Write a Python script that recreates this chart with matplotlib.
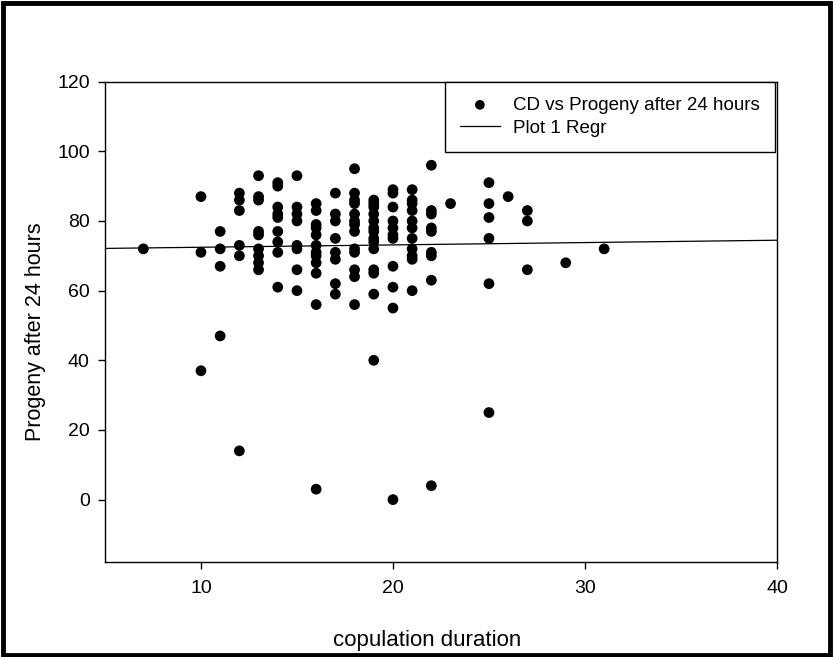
import numpy as np
import matplotlib
matplotlib.use("Agg")
import matplotlib.pyplot as plt
from matplotlib.patches import Rectangle

plt.rcParams["font.family"] = ["Liberation Sans", "DejaVu Sans"]

# copulation duration (x) and progeny after 24 h (y), read column by column
duration = ([7] + [10] * 3 + [11] * 4 + [12] * 6 + [13] * 9 + [14] * 9 + [15] * 8
            + [16] * 12 + [17] * 8 + [18] * 13 + [19] * 14 + [20] * 11 + [21] * 11
            + [22] * 9 + [23] + [25] * 6 + [26] + [27] * 3 + [29] + [31])
progeny = ([72]
           + [87, 71, 37]
           + [77, 72, 67, 47]
           + [88, 86, 83, 73, 70, 14]
           + [93, 87, 86, 77, 76, 72, 70, 68, 66]
           + [91, 90, 84, 82, 81, 77, 74, 71, 61]
           + [93, 84, 82, 80, 73, 72, 66, 60]
           + [85, 83, 79, 78, 76, 73, 71, 70, 68, 65, 56, 3]
           + [88, 82, 80, 75, 71, 69, 62, 59]
           + [95, 88, 86, 85, 82, 80, 79, 77, 72, 71, 66, 64, 56]
           + [86, 85, 84, 82, 80, 78, 77, 75, 74, 72, 66, 65, 59, 40]
           + [89, 88, 84, 80, 78, 76, 75, 67, 61, 55, 0]
           + [89, 86, 85, 83, 80, 78, 75, 72, 70, 69, 60]
           + [96, 83, 82, 78, 77, 71, 70, 63, 4]
           + [85]
           + [91, 85, 81, 75, 62, 25]
           + [87]
           + [83, 80, 66]
           + [68]
           + [72])
x_ticks = [10, 20, 30, 40]
y_ticks = [0, 20, 40, 60, 80, 100, 120]

x = np.array(duration, dtype=float)
y = np.array(progeny, dtype=float)
slope, icpt = np.polyfit(x, y, 1)

fig = plt.figure(figsize=(8.33, 6.57), dpi=100)
ax = fig.add_axes([0.126, 0.1441, 0.8067, 0.7316])

ax.scatter(x, y, s=60, color="black", edgecolors="none", zorder=3,
           label="CD vs Progeny after 24 hours")
xl = np.array([5, 40])
ax.plot(xl, icpt + slope * xl, color="black", lw=0.9, label="Plot 1 Regr")

ax.set_xlim(5, 40)
ax.set_ylim(-18, 120)
ax.set_xticks(x_ticks)
ax.set_yticks(y_ticks)
ax.tick_params(axis="both", direction="out", length=5, width=1, labelsize=14)
ax.tick_params(axis="x", pad=8)
ax.tick_params(axis="y", pad=6)
for s in ax.spines.values():
    s.set_linewidth(1)

ax.set_xlabel("copulation duration", fontsize=16, va="center", ha="center")
ax.xaxis.set_label_coords(0.48, -0.162)
ax.set_ylabel("Progeny after 24 hours", fontsize=15.5, va="center", ha="center")
ax.yaxis.set_label_coords(-0.104, 0.479)

leg = ax.legend(loc="upper right", bbox_to_anchor=(0.997, 1.0), borderaxespad=0,
                fontsize=13.5, frameon=True, fancybox=False, framealpha=1,
                edgecolor="black", handlelength=2.15, handletextpad=0.7,
                borderpad=0.8, labelspacing=0.3, markerscale=0.9)
leg.get_frame().set_linewidth(1)

fig.patches.append(Rectangle((0.004, 0.003), 0.992, 0.992, transform=fig.transFigure,
                             fill=False, lw=3.5, edgecolor="black"))

fig.savefig("out.png", dpi=100)
